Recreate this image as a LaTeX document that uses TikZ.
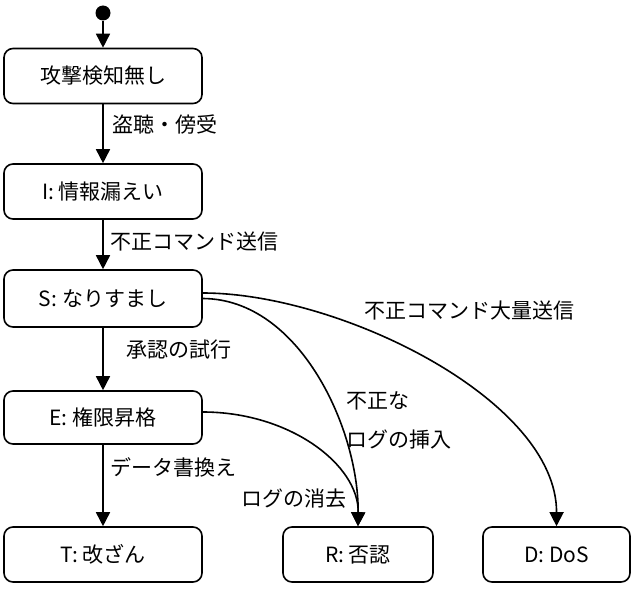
\documentclass[tikz,border=0pt]{standalone}
\usepackage{fontspec}
\setmainfont{Noto Sans CJK JP}
\usetikzlibrary{arrows.meta}
\begin{document}
\begin{tikzpicture}[x=1pt,y=-1pt,
  state/.style={draw,line width=1.6pt,rounded corners=9pt,minimum height=55pt,
    font=\fontsize{21}{24}\selectfont,inner sep=0pt},
  lbl/.style={font=\fontsize{21}{24}\selectfont,inner sep=0pt,anchor=west},
  tr/.style={line width=1.6pt,-{Triangle[length=14pt,width=14pt]}}]
\useasboundingbox (0,0) rectangle (634,591);
\node[circle,fill,minimum size=15pt,inner sep=0pt] (start) at (103,13) {};
\node[state,minimum width=198pt] (A) at (103,76) {攻撃検知無し};
\node[state,minimum width=198pt] (I) at (103,191.5) {I: 情報漏えい};
\node[state,minimum width=198pt,minimum height=57pt] (S) at (103,298.5) {S: なりすまし};
\node[state,minimum width=198pt,minimum height=53pt] (E) at (103,417.5) {E: 権限昇格};
\node[state,minimum width=198pt] (T) at (103,554.5) {T: 改ざん};
\node[state,minimum width=150pt] (R) at (358,554.5) {R: 否認};
\node[state,minimum width=147pt] (D) at (556.5,554.5) {D: DoS};

\draw[tr] (start) -- (A);
\draw[tr] (A) -- (I);
\draw[tr] (I) -- (S);
\draw[tr] (S) -- (E);
\draw[tr] (E) -- (T);
\draw[tr] ([yshift=5.5pt]S.east) .. controls (340,293) and (557,400) .. (D.north);
\draw[tr] (S.east) .. controls (300,299) and (359,430) .. (R.north);
\draw[tr] ([yshift=5.5pt]E.east) .. controls (290,412) and (359,465) .. (R.north);

\node[lbl] (l1) at (112,125) {盗聴・傍受};
\node[lbl] (l2) at (110,242) {不正コマンド送信};
\node[lbl] (l3) at (126,350) {承認の試行};
\node[lbl] (l4) at (110,467) {データ書換え};
\node[lbl] (l5) at (364,311) {不正コマンド大量送信};
\node[lbl] (l6) at (346,401) {不正な};
\node[lbl] (l7) at (346,440) {ログの挿入};
\node[lbl] (l8) at (241,499) {ログの消去};
\end{tikzpicture}
\end{document}
